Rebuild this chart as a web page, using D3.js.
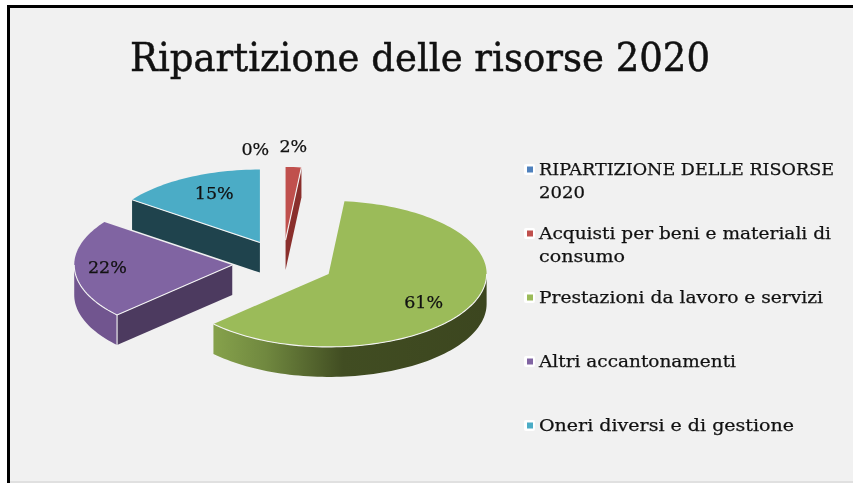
<!DOCTYPE html>
<html>
<head>
<meta charset="utf-8">
<script src="https://cdn.jsdelivr.net/npm/d3@7"></script>
<style>
  html, body { margin: 0; padding: 0; background: #fff; overflow: hidden; }
  svg { display: block; filter: blur(0.4px); }
  text { font-family: "DejaVu Serif", serif; fill: #111; stroke: #111; stroke-width: 0.25; }
</style>
</head>
<body>
<script>
const categories = [
  'RIPARTIZIONE DELLE RISORSE 2020',
  'Acquisti per beni e materiali di consumo',
  'Prestazioni da lavoro e servizi',
  'Altri accantonamenti',
  'Oneri diversi e di gestione'
];
const values = [0, 1.6, 61.4, 22, 15];
const topColors = ['#4f81bd', '#c0504d', '#9bbb59', '#8064a2', '#4bacc6'];
const wallColors = ['#2c4a6e', '#8a2f2c', '#3f4a20', '#4c3a5f', '#1f434d'];
const rimColors = ['#4f81bd', '#a33f3c', '#84a04b', '#71558f', '#3a8296'];
const legendLines = [
  ['RIPARTIZIONE DELLE RISORSE', '2020'],
  ['Acquisti per beni e materiali di', 'consumo'],
  ['Prestazioni da lavoro e servizi'],
  ['Altri accantonamenti'],
  ['Oneri diversi e di gestione']
];

const width = 853;
const height = 483;

// pie geometry
const cx = 283;
const cy = 263.5;
const rx = 158;
const ry = 73;
const depth = 30;
const explode = 0.322;

// label distance from the slice tip (in radii) and angle nudge in degrees
const labelRadius = [1.26, 1.29, 0.714, 0.79, 0.74];
const labelTurn = [-8, -0.7, 6.3, 2, 4];

// drawn width of each legend line, the original face is wider than DejaVu
const legendWidths = [[295, 46], [292, 86], [284], [197], [255]];

const svg = d3.select('body').append('svg')
  .attr('width', width)
  .attr('height', height);

svg.append('rect')
  .attr('x', 7).attr('y', 5)
  .attr('width', width).attr('height', height)
  .attr('fill', '#000');
svg.append('rect')
  .attr('x', 10).attr('y', 8)
  .attr('width', width).attr('height', 473)
  .attr('fill', '#f1f1f1');
svg.append('rect')
  .attr('x', 10).attr('y', 481)
  .attr('width', width).attr('height', 2)
  .attr('fill', '#e0e0e0');

svg.append('text')
  .attr('x', 130)
  .attr('y', 71)
  .attr('font-size', 39)
  .attr('textLength', 580)
  .attr('lengthAdjust', 'spacingAndGlyphs')
  .style('stroke-width', 0.5)
  .text('Ripartizione delle risorse 2020');

const slices = d3.pie().sort(null).value(d => d)(values);

function project(angle, radius, tip) {
  return [
    tip[0] + radius * rx * Math.sin(angle),
    tip[1] - radius * ry * Math.cos(angle)
  ];
}

function arcPoints(a0, a1, tip, dy) {
  const n = Math.max(2, Math.ceil(Math.abs(a1 - a0) / 0.03));
  return d3.range(n + 1).map(i => {
    const p = project(a0 + (a1 - a0) * i / n, 1, tip);
    return [p[0], p[1] + dy];
  });
}

const line = d3.line();
const defs = svg.append('defs');

const greenWall = defs.append('linearGradient')
  .attr('id', 'greenWall')
  .attr('gradientUnits', 'userSpaceOnUse')
  .attr('x1', 211).attr('x2', 486).attr('y1', 0).attr('y2', 0);
greenWall.append('stop').attr('offset', 0).attr('stop-color', '#87a34c');
greenWall.append('stop').attr('offset', 0.2).attr('stop-color', '#70883f');
greenWall.append('stop').attr('offset', 0.48).attr('stop-color', '#414d22');
greenWall.append('stop').attr('offset', 1).attr('stop-color', '#3c461f');

const pieGroup = svg.append('g');

// back to front, so the nearer slice covers the one behind
const drawOrder = [4, 0, 1, 3, 2];

drawOrder.forEach(i => {
  const s = slices[i];
  if (s.endAngle === s.startAngle) return;
  const mid = (s.startAngle + s.endAngle) / 2;
  const tip = project(mid, explode, [cx, cy]);
  const g = pieGroup.append('g');
  const a0 = s.startAngle;
  const a1 = s.endAngle;
  const highlights = [];

  // cut faces
  [[a0, Math.sin(a0) < -0.001], [a1, Math.sin(a1) > 0.001]].forEach(([a, visible]) => {
    if (!visible) return;
    const p = project(a, 1, tip);
    g.append('path')
      .attr('d', line([tip, p, [p[0], p[1] + depth], [tip[0], tip[1] + depth]]) + 'Z')
      .attr('fill', wallColors[i]);
    highlights.push([tip, p]);
  });

  // outer rim, only the part that faces the viewer
  const r0 = Math.max(a0, Math.PI / 2);
  const r1 = Math.min(a1, Math.PI * 1.5);
  if (r1 > r0) {
    const upper = arcPoints(r0, r1, tip, 0);
    const lower = arcPoints(r1, r0, tip, depth);
    g.append('path')
      .attr('d', line(upper.concat(lower)) + 'Z')
      .attr('fill', i === 2 ? 'url(#greenWall)' : rimColors[i]);
    highlights.push(upper);
  }

  // top face
  g.append('path')
    .attr('d', line([tip].concat(arcPoints(a0, a1, tip, 0))) + 'Z')
    .attr('fill', topColors[i]);

  // corner where the cut face meets the rim
  if (Math.sin(a0) < -0.001 && a0 > Math.PI / 2 && a0 < Math.PI * 1.5) {
    const p = project(a0, 1, tip);
    highlights.push([p, [p[0], p[1] + depth]]);
  }

  highlights.forEach(h => {
    g.append('path')
      .attr('d', line(h))
      .attr('stroke', '#f4f4f4').attr('stroke-width', 1.1).attr('fill', 'none');
  });
});

// data labels
slices.forEach((s, i) => {
  const mid = (s.startAngle + s.endAngle) / 2;
  const tip = project(mid, explode, [cx, cy]);
  const p = project(mid + labelTurn[i] * Math.PI / 180, labelRadius[i], tip);
  svg.append('text')
    .attr('x', p[0])
    .attr('y', p[1])
    .attr('text-anchor', 'middle')
    .attr('dominant-baseline', 'central')
    .attr('font-size', 17.5)
    .text(d3.format('.0%')(values[i] / d3.sum(values)));
});

// legend
const legendY = d3.scalePoint()
  .domain(categories)
  .range([169, 425]);

const legend = svg.append('g');
categories.forEach((c, i) => {
  const y = legendY(c);
  legend.append('rect')
    .attr('x', 524).attr('y', y - 5)
    .attr('width', 11).attr('height', 11)
    .attr('rx', 2)
    .attr('fill', '#fff');
  legend.append('rect')
    .attr('x', 527).attr('y', y - 2.5)
    .attr('width', 6).attr('height', 6)
    .attr('fill', topColors[i]);
  legendLines[i].forEach((t, j) => {
    legend.append('text')
      .attr('x', 539)
      .attr('y', y + j * 22.5)
      .attr('dominant-baseline', 'central')
      .attr('font-size', 17.4)
      .attr('textLength', legendWidths[i][j])
      .attr('lengthAdjust', 'spacingAndGlyphs')
      .text(t);
  });
});
</script>
</body>
</html>
